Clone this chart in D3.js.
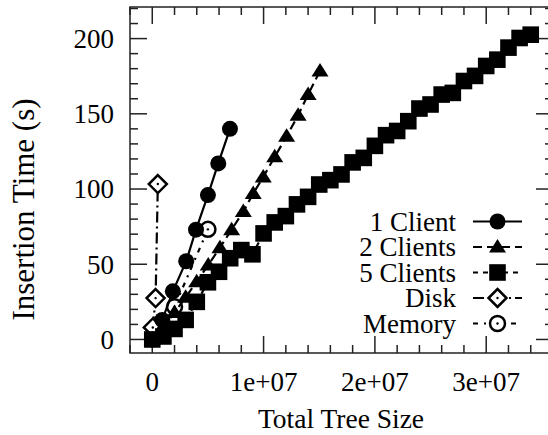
<!DOCTYPE html>
<html>
<head>
<meta charset="utf-8">
<script src="https://cdn.jsdelivr.net/npm/d3@7"></script>
<style>
  html, body { margin: 0; padding: 0; background: #fff; }
  svg { display: block; }
</style>
</head>
<body>
<svg id="chart" width="548" height="435"></svg>
<script>
// Series: x = total tree size, y = insertion time in seconds
const oneClientX  = [0, 0.9e6, 1.85e6, 3.05e6, 3.93e6, 5.0e6, 5.93e6, 6.98e6];
const oneClientY  = [0, 13, 32, 52, 73, 96, 117, 140];

const twoClientsX = [0, 1.0e6, 2.0e6, 3.0e6, 3.99e6, 5.03e6, 6.08e6, 7.13e6, 8.18e6, 9.07e6, 9.97e6, 11.0e6, 12.07e6, 13.1e6, 14.0e6, 15.07e6];
const twoClientsY = [0, 8, 18, 28, 38.4, 49.5, 61, 73, 85, 97, 108, 121.4, 135, 149, 162.8, 178.5];

const fiveClientsX = [0, 1e6, 2e6, 3e6, 4e6, 5e6, 6e6, 7e6, 8e6, 9e6, 10e6, 11e6, 12e6, 13e6, 14e6, 15e6, 16e6, 17e6,
                      18e6, 19e6, 20e6, 21e6, 22e6, 23e6, 24e6, 25e6, 26e6, 27e6, 28e6, 29e6, 30e6, 31e6, 32e6, 33e6, 34e6];
const fiveClientsY = [0, 2, 7, 13, 25, 38, 45, 54, 59.4, 56.6, 70.5, 77.8, 82, 89.8, 94.8, 103, 105.9, 109.7,
                      117.7, 120.7, 128.7, 135.8, 138.6, 145.1, 153.5, 156.2, 162.8, 163.9, 171.8, 175.2, 181.8, 186, 194, 200.4, 202.6];

const diskX   = [0.05e6, 0.3e6, 0.5e6];
const diskY   = [8, 27.5, 103.3];

const memoryX = [0.2e6, 2.0e6, 5.0e6];
const memoryY = [2, 21.8, 73.2];

const seriesNames = ["1 Client", "2 Clients", "5 Clients", "Disk", "Memory"];

const xTickValues = [0, 1e7, 2e7, 3e7];
const xTickLabels = ["0", "1e+07", "2e+07", "3e+07"];
const yTickValues = [0, 50, 100, 150, 200];

const xLabel = "Total Tree Size";
const yLabel = "Insertion Time (s)";

// ---------------------------------------------------------------
const FONT = "'Times New Roman', 'Liberation Serif', 'DejaVu Serif', serif";
const svg = d3.select("#chart").attr("font-family", FONT);
const frame = { left: 130, right: 553, top: 7, bottom: 353 };

const x = d3.scaleLinear().domain([-2e6, 3.6e7]).range([frame.left, frame.right]);
const y = d3.scaleLinear().domain([-9, 221]).range([frame.bottom, frame.top]);

const zip = (xs, ys) => xs.map((v, i) => [v, ys[i]]);

const series = [
  { name: seriesNames[0], data: zip(oneClientX, oneClientY),     dash: null,       marker: "circle"   },
  { name: seriesNames[1], data: zip(twoClientsX, twoClientsY),   dash: "9,5",      marker: "triangle" },
  { name: seriesNames[2], data: zip(fiveClientsX, fiveClientsY), dash: "5,5",      marker: "square"   },
  { name: seriesNames[3], data: zip(diskX, diskY),               dash: "11,4,2,4", marker: "diamond"  },
  { name: seriesNames[4], data: zip(memoryX, memoryY),           dash: "5,6,2,6",  marker: "ocircle"  }
];

// Frame and ticks on all four sides
const minorX = d3.range(-2e6, 3.6e7 + 1, 2e6);
const minorY = d3.range(0, 221, 10);
const majLen = 17, minLen = 8;
const axisColor = "#222";

const ticks = svg.append("g").attr("stroke", axisColor).attr("stroke-width", 1.5);
minorX.forEach(v => {
  const len = xTickValues.includes(v) ? majLen : minLen;
  ticks.append("line").attr("x1", x(v)).attr("x2", x(v)).attr("y1", frame.bottom).attr("y2", frame.bottom - len);
  ticks.append("line").attr("x1", x(v)).attr("x2", x(v)).attr("y1", frame.top).attr("y2", frame.top + len);
});
minorY.forEach(v => {
  const len = yTickValues.includes(v) ? majLen : minLen;
  ticks.append("line").attr("y1", y(v)).attr("y2", y(v)).attr("x1", frame.left).attr("x2", frame.left + len);
  ticks.append("line").attr("y1", y(v)).attr("y2", y(v)).attr("x1", frame.right).attr("x2", frame.right - len);
});

svg.append("rect")
  .attr("x", frame.left).attr("y", frame.top)
  .attr("width", frame.right - frame.left).attr("height", frame.bottom - frame.top)
  .attr("fill", "none").attr("stroke", axisColor).attr("stroke-width", 1.5);

// Tick labels
const fs = 27;
svg.append("g").selectAll("text").data(xTickValues).join("text")
  .attr("x", d => x(d)).attr("y", 391)
  .attr("text-anchor", "middle").attr("font-size", fs)
  .text((d, i) => xTickLabels[i]);

svg.append("g").selectAll("text").data(yTickValues).join("text")
  .attr("x", 114).attr("y", d => y(d)).attr("dy", "0.35em")
  .attr("text-anchor", "end").attr("font-size", fs)
  .text(d => d3.format("d")(d));

// Axis titles
svg.append("text").attr("x", 341).attr("y", 428)
  .attr("text-anchor", "middle").attr("font-size", 27.5).text(xLabel);
svg.append("text")
  .attr("transform", "translate(34,209.5) rotate(-90)")
  .attr("text-anchor", "middle").attr("font-size", 31)
  .text(yLabel);

// Marker drawing
function drawMarker(g, kind, cx, cy) {
  switch (kind) {
    case "circle":
      g.append("circle").attr("cx", cx).attr("cy", cy).attr("r", 8).attr("fill", "#000");
      break;
    case "triangle":
      g.append("path").attr("d", `M${cx},${cy - 8}L${cx + 8.5},${cy + 5.5}L${cx - 8.5},${cy + 5.5}Z`).attr("fill", "#000");
      break;
    case "square":
      g.append("rect").attr("x", cx - 8.3).attr("y", cy - 8.3).attr("width", 16.6).attr("height", 16.6).attr("fill", "#000");
      break;
    case "diamond":
      g.append("path").attr("d", `M${cx},${cy - 9}L${cx + 9},${cy}L${cx},${cy + 9}L${cx - 9},${cy}Z`)
        .attr("fill", "#fff").attr("stroke", "#000").attr("stroke-width", 2.5);
      g.append("circle").attr("cx", cx).attr("cy", cy).attr("r", 1.2).attr("fill", "#000");
      break;
    case "ocircle":
      g.append("circle").attr("cx", cx).attr("cy", cy).attr("r", 7.5)
        .attr("fill", "#fff").attr("stroke", "#000").attr("stroke-width", 2.5);
      g.append("circle").attr("cx", cx).attr("cy", cy).attr("r", 1.2).attr("fill", "#000");
      break;
  }
}

const line = d3.line().x(d => x(d[0])).y(d => y(d[1]));
const plot = svg.append("g");

// Lines drawn in reverse so 1 Client sits on top
series.slice().reverse().forEach(s => {
  const g = plot.append("g");
  g.append("path").attr("d", line(s.data))
    .attr("fill", "none").attr("stroke", "#000").attr("stroke-width", 2.2)
    .attr("stroke-dasharray", s.dash);
  s.data.forEach(d => drawMarker(g, s.marker, x(d[0]), y(d[1])));
});

// Legend
const legend = svg.append("g");
series.forEach((s, i) => {
  const cy = 221.5 + i * 25.5;
  legend.append("text").attr("x", 456).attr("y", cy).attr("dy", "0.35em")
    .attr("text-anchor", "end").attr("font-size", fs).text(s.name);
  legend.append("line").attr("x1", 473).attr("x2", 522).attr("y1", cy).attr("y2", cy)
    .attr("stroke", "#000").attr("stroke-width", 2.2).attr("stroke-dasharray", s.dash);
  drawMarker(legend, s.marker, 497.5, cy);
});
</script>
</body>
</html>
